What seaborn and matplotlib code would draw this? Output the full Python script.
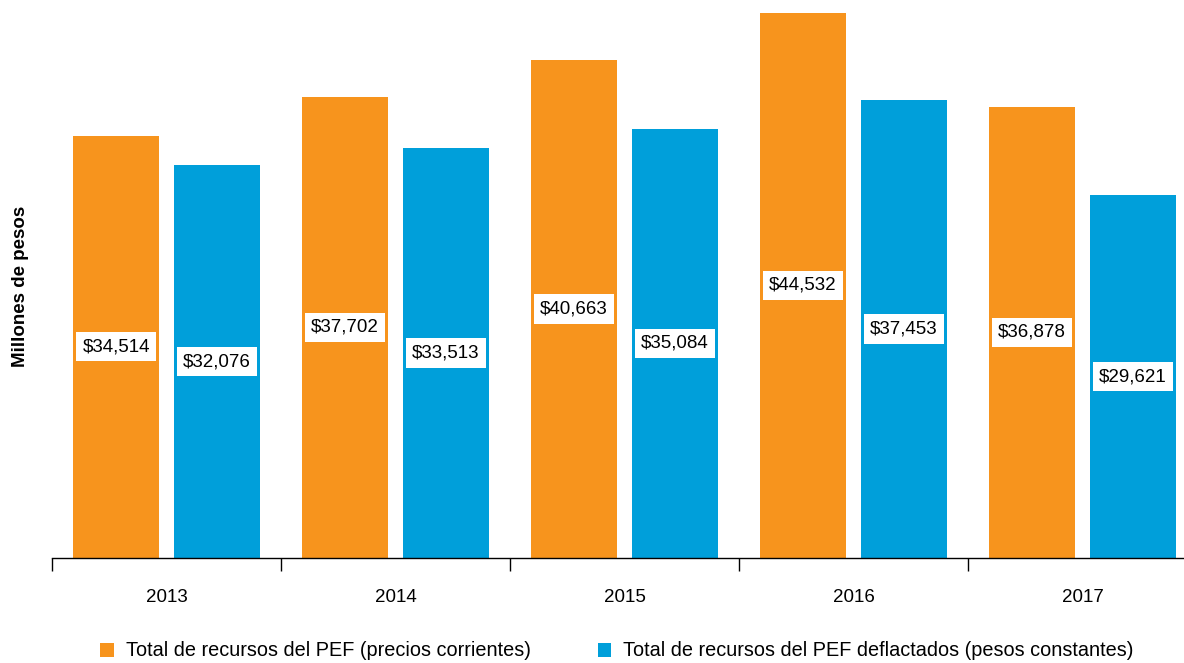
"""
recursos del PEF 2013-2017
barras agrupadas: precios corrientes vs pesos constantes
"""

import pandas as pd
import seaborn as sns
import matplotlib.pyplot as plt
from matplotlib.patches import Patch

years = ["2013", "2014", "2015", "2016", "2017"]
corrientes = [34514, 37702, 40663, 44532, 36878]
constantes = [32076, 33513, 35084, 37453, 29621]
series_names = ["Total de recursos del PEF (precios corrientes)",
                "Total de recursos del PEF deflactados (pesos constantes)"]
colors = ["#F7941D", "#009FDA"]

df = pd.DataFrame({
    "year": years * 2,
    "value": corrientes + constantes,
    "serie": [series_names[0]] * len(years) + [series_names[1]] * len(years),
})

sns.set_style("white")
plt.rcParams["font.family"] = ["Liberation Sans", "DejaVu Sans"]
plt.rcParams["text.color"] = "black"
plt.rcParams["xtick.color"] = "black"
plt.rcParams["axes.labelcolor"] = "black"

fig = plt.figure(figsize=(11.84, 6.63), dpi=100)
ax = fig.add_axes([52 / 1184, 105 / 663, 1145 / 1184, 558 / 663])

sns.barplot(data=df, x="year", y="value", hue="serie", palette=colors,
            width=0.88, gap=0.145, saturation=1, legend=False,
            linewidth=0, ax=ax)

for cont in ax.containers:
    labels = ["${:,.0f}".format(b.get_height()) for b in cont]
    ax.bar_label(cont, labels=labels, label_type="center", fontsize=13.5,
                 color="black",
                 bbox=dict(facecolor="white", edgecolor="none", pad=4.5))

ax.set_ylim(0, 44532 * 558 / 545)
ax.set_xlim(-0.5, 4.5)
ax.set_yticks([])
ax.set_xlabel("")
ax.set_ylabel("Millones de pesos", fontsize=13.5, fontweight="bold")
ax.yaxis.set_label_coords(-0.0205, 0.486)
for s in ["top", "right", "left"]:
    ax.spines[s].set_visible(False)
ax.spines["bottom"].set_color("black")
ax.spines["bottom"].set_linewidth(1)

ax.set_xticks([-0.5, 0.5, 1.5, 2.5, 3.5, 4.5], minor=True)
ax.tick_params(axis="x", which="minor", length=9, width=1, color="black",
               direction="out", bottom=True)
ax.tick_params(axis="x", which="major", length=0, pad=22, labelsize=13.5)

handles = [Patch(facecolor=c, edgecolor="none") for c in colors]
fig.legend(handles, series_names, loc="center", ncol=2,
           bbox_to_anchor=(617 / 1184, 12 / 663), frameon=False,
           fontsize=14.3, handlelength=0.7, handleheight=0.7,
           handletextpad=0.6, columnspacing=3.35)

plt.savefig("out.png", dpi=100)
